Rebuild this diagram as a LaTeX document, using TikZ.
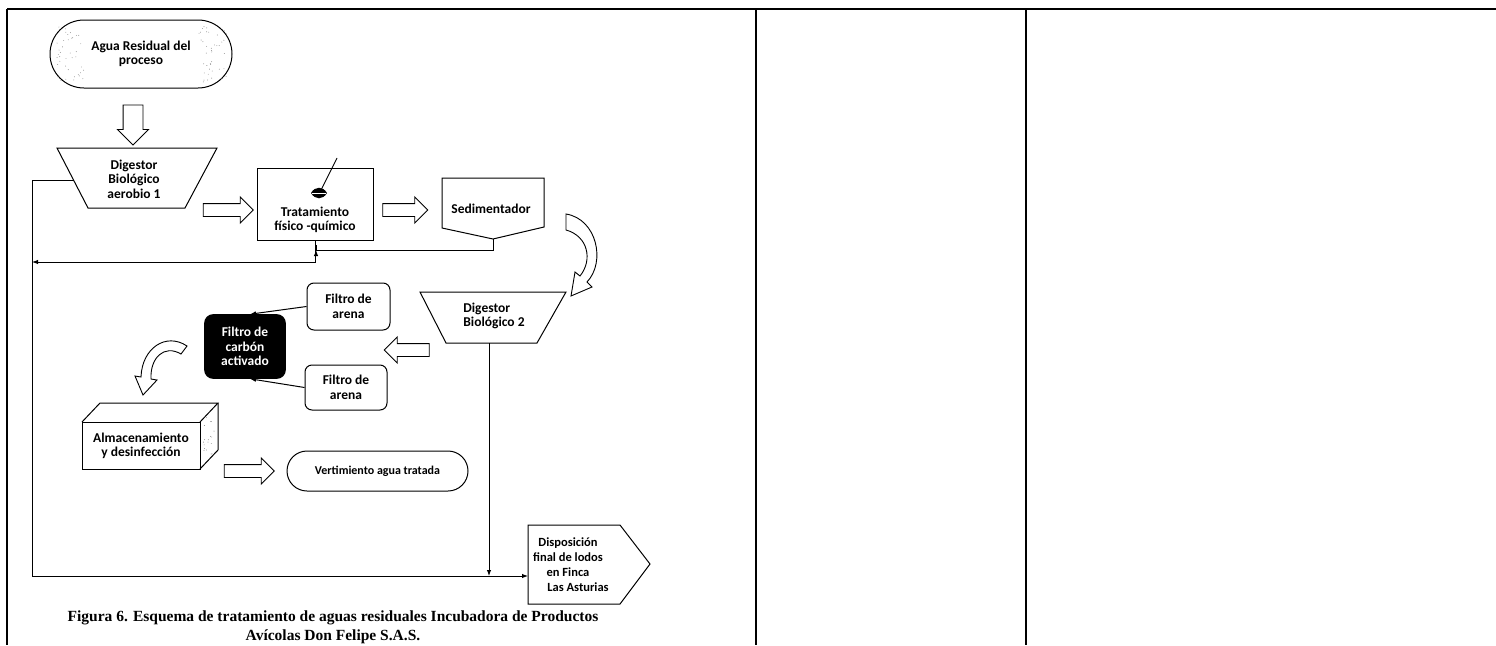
\documentclass[tikz,border=0pt]{standalone}
\usepackage{fontspec}
\setmainfont{Carlito}
\newfontfamily\capfont{Liberation Serif}
\usetikzlibrary{shapes.arrows,arrows.meta}
\begin{document}
\begin{tikzpicture}[x=1pt,y=-1pt,
  lbl/.style={font=\bfseries\fontsize{13.5}{14.5}\selectfont, align=center, inner sep=0pt},
  box/.style={draw, line width=1pt, lbl},
  conn/.style={line width=1pt, -{Latex[length=6pt,width=4.5pt]}},
  plain/.style={line width=1pt},
  barrow/.style={single arrow, draw, line width=0.9pt, inner xsep=0pt, single arrow tip angle=90},
  frame/.style={line width=1.3pt}
]
\useasboundingbox (0,0) rectangle (1496,645);
% table frame
\draw[frame] (7,9) -- (1496,9);
\draw[frame] (7,9) -- (7,645);
\draw[frame] (756,9) -- (756,645);
\draw[frame] (1026,9) -- (1026,645);

% source
\node[box, rounded corners=34pt, minimum width=182pt, minimum height=68pt] (agua) at (141,54) {Agua Residual del\\proceso};
\pgfmathsetseed{7}
\foreach \i in {1,...,40}{\fill[gray] ({56+rnd*28},{26+rnd*56}) circle (0.45pt);}
\foreach \i in {1,...,40}{\fill[gray] ({199+rnd*28},{26+rnd*56}) circle (0.45pt);}

% block arrows
\node[barrow, shape border rotate=270, minimum height=40pt, inner xsep=9.5pt, inner ysep=0pt, single arrow head extend=5.5pt] (ba1) at (133,120) {};
\node[barrow, minimum height=50pt, inner ysep=6pt, single arrow head extend=6.5pt] (ba2) at (225,210) {};
\node[barrow, minimum height=45pt, inner ysep=6pt, single arrow head extend=6.5pt] (ba3) at (402,210) {};
\node[barrow, shape border rotate=180, minimum height=45pt, inner ysep=6pt, single arrow head extend=6.5pt] (ba4) at (410,350) {};
\node[barrow, minimum height=50pt, inner ysep=6pt, single arrow head extend=6.5pt] (ba5) at (246,471) {};

% digestor 1
\draw[plain, fill=white] (57,148) -- (217,148) -- (185,208) -- (88,208) -- cycle;
\node[lbl] (dig1) at (134,179) {Digestor\\Biológico\\aerobio 1};
\coordinate (d1l) at (73.5,180);

% tratamiento
\node[draw, line width=1pt, minimum width=116pt, minimum height=72pt] (trat) at (315,204) {};
\node[lbl] (tratl) at (315,220) {Tratamiento\\físico -químico};
\fill (311,193) .. controls (315,186) and (323,186) .. (327,193) .. controls (323,200) and (315,200) .. (311,193) -- cycle;
\draw[white, line width=0.6pt] (312,193) -- (326,193);
\coordinate (eye) at (320,192);
\coordinate (stir) at (337,158);
\draw[line width=0.9pt] (eye) -- (stir);

% sedimentador
\draw[plain] (442,178) -- (544,178) -- (544,227) -- (493,239) -- (442,228) -- cycle;
\node[lbl] (sed) at (491,209) {Sedimentador};
\coordinate (sedb) at (493,239);

% curved arrow sed -> digestor 2
\draw[line width=0.9pt, fill=white] (566,214) .. controls (597,219) and (606,262) .. (587,282) -- (592,287) -- (571,296) -- (575,272) -- (580,276) .. controls (593,260) and (588,236) .. (566,230) -- cycle;

% digestor 2
\draw[plain] (420,292) -- (566,292) -- (537,343) -- (446,343) -- cycle;
\node[lbl, align=left] (dig2) at (494,316) {Digestor\\Biológico 2};
\coordinate (d2b) at (489,343);

% filters
\node[box, rounded corners=7pt, minimum width=83pt, minimum height=47pt] (fa1) at (348.5,306.5) {Filtro de\\arena};
\node[box, rounded corners=7pt, minimum width=82pt, minimum height=45pt] (fa2) at (346,387.5) {Filtro de\\arena};
\node[box, fill=black, text=white, rounded corners=8pt, line width=1.6pt, minimum width=80pt, minimum height=63pt] (carbon) at (245,346.5) {Filtro de\\carbón\\activado};
\draw[conn] (fa1.west) -- ([xshift=5pt]carbon.north);
\draw[conn] (fa2.west) -- ([xshift=5pt]carbon.south);

% curved arrow carbon -> almacenamiento
\draw[line width=0.9pt, fill=white] (187,346) .. controls (166,332) and (142,348) .. (141,377) -- (135,376) -- (143,395) -- (157,380) -- (151,379) .. controls (150,358) and (164,344) .. (181,354) -- cycle;

% almacenamiento (cuboid)
\draw[plain] (82,422) rectangle (200,469);
\draw[plain] (82,422) -- (100,403) -- (218,403) -- (200,422);
\draw[plain] (218,403) -- (218,450) -- (200,469);
\foreach \i in {1,...,18}{\fill[gray] ({203+rnd*12},{412+rnd*44}) circle (0.45pt);}
\node[lbl] (alm) at (141,446) {Almacenamiento\\y desinfección};

% vertimiento
\node[box, rounded corners=20pt, minimum width=181pt, minimum height=40pt, font=\bfseries\fontsize{12}{14}\selectfont] (vert) at (377.5,471) {Vertimiento agua tratada};

% disposicion
\draw[plain] (528,525) -- (620,525) -- (650,564) -- (620,604) -- (528,604) -- cycle;
\node[lbl, font=\bfseries\fontsize{12.5}{15}\selectfont] (disp) at (568,565) {Disposición\\final de lodos\\en Finca\\\hspace*{20pt}Las Asturias};
\coordinate (dispw) at (528,576);

% connectors
\coordinate (lt) at (32,180);
\coordinate (lb) at (32,576);
\coordinate (fb) at (32,262);
\draw[plain] (d1l) -- (lt) -- (lb);
\draw[conn] (lb) -- (dispw);
\draw[conn] (d2b) -- (d2b |- dispw);
\draw[conn] (trat.south) -- (trat.south |- fb) -- (fb);
\draw[conn] (sedb) -- ++(0,11) -| ([xshift=1pt]trat.south |- 0,250) ;

% caption
\node[font=\capfont\bfseries\fontsize{15.5}{19}\selectfont, align=center, inner sep=0pt] (cap) at (333,627) {Figura 6. Esquema de tratamiento de aguas residuales Incubadora de Productos\\Avícolas Don Felipe S.A.S.};
\end{tikzpicture}
\end{document}
